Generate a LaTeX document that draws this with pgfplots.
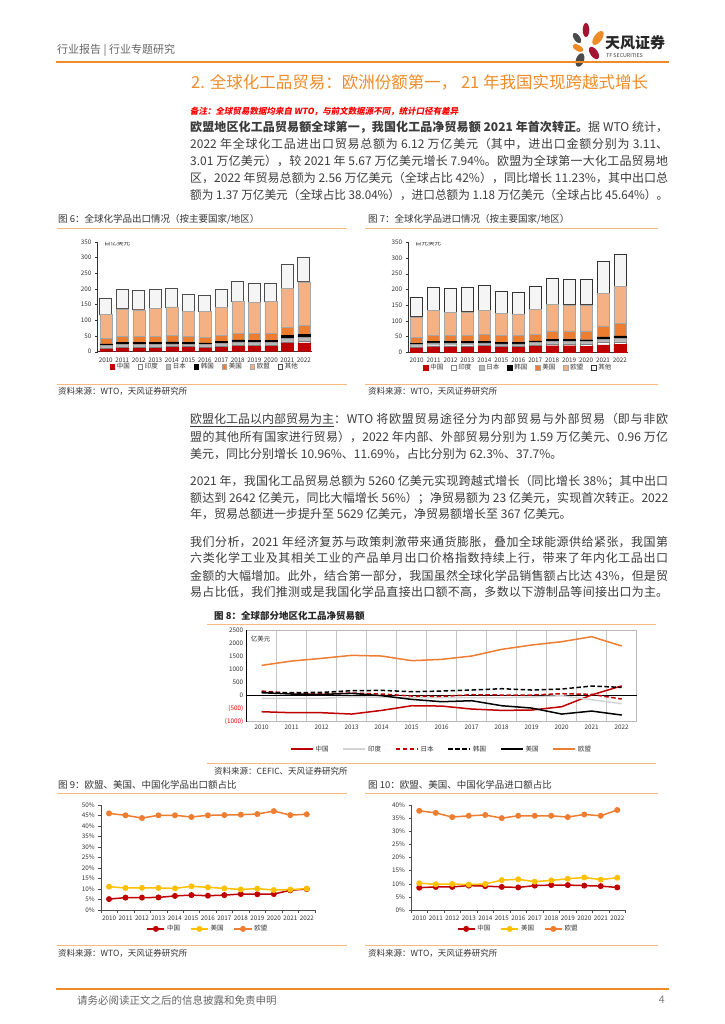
\documentclass[border=0pt]{standalone}
\usepackage{fontspec}
\setmainfont{Noto Sans CJK SC}
\newfontfamily\notefont{Noto Sans CJK SC}[FakeSlant=0.18]
\usepackage{graphicx}
\usepackage{pgfplots}
\usepackage{pgfplotstable}
\pgfplotsset{compat=1.18}
\XeTeXlinebreaklocale "zh"
\XeTeXlinebreakskip=0pt plus 2pt

\definecolor{tfo}{RGB}{237,125,49}
\definecolor{hdr}{RGB}{240,140,40}
\definecolor{lightor}{RGB}{247,185,125}
\definecolor{cnred}{RGB}{192,0,0}
\definecolor{peach}{RGB}{244,177,131}
\definecolor{usgold}{RGB}{255,192,0}
\definecolor{txt}{RGB}{60,60,60}
\definecolor{logored}{RGB}{165,20,50}
\definecolor{logogray}{RGB}{75,75,75}

% exports, 百亿美元
\pgfplotstableread{
x cn in jp kr us eu ot
0  7 3 10 5 18  77 50
1 10 3 11 6 19  88 61
2 10 3 10 6 19  86 61
3 10 3 10 6 20  90 60
4 13 3  9 6 21  91 60
5 13 3  8 6 19  80 55
6 12 3  8 5 18  83 51
7 14 3  9 6 20  90 57
8 17 4 10 7 21 102 64
9 16 4 10 7 22  99 61
10 16 4 10 7 22 101 59
11 26 5 12 9 26 125 75
12 28 6 12 9 29 139 77
}\expt

% imports, 百亿美元
\pgfplotstableread{
x cn in jp kr us eu ot
0 14 3  8 4 19  65  62
1 17 4  9 5 20  78  74
2 17 4  9 5 20  72  77
3 17 4  8 5 20  75  79
4 18 4  8 5 22  77  80
5 16 4  7 5 22  70  71
6 16 4  7 5 22  68  69
7 19 4  8 5 21  79  74
8 21 5  9 6 27  85  82
9 21 5  9 6 27  83  81
10 20 5  9 6 28  83  80
11 24 7 11 7 35 103 101
12 25 8 12 7 41 117 102
}\impt

% net trade, 亿美元
\pgfplotstableread{
x cn in jp kr us eu
0 -619 -110 170 120 107 1150
1 -657 -110 81 107 56 1316
2 -657 -110 69 120 43 1418
3 -708 -46 94 183 81 1533
4 -568 -71 56 196 -8 1507
5 -390 -84 -20 145 -148 1329
6 -403 -84 -33 170 -237 1380
7 -517 -84 30 209 -199 1507
8 -568 -84 18 260 -390 1762
9 -555 -59 18 209 -479 1927
10 -428 -8 69 247 -708 2054
11 23 -160 43 361 -594 2245
12 367 -313 -135 310 -746 1889
}\net

% export shares, %
\pgfplotstableread{
x cn us eu
0 5.2 11.1 46.0
1 5.9 10.5 45.1
2 5.9 10.6 43.8
3 6.0 10.5 45.1
4 6.7 10.3 45.1
5 7.1 11.3 44.3
6 6.8 10.8 45.1
7 7.1 10.3 45.2
8 7.6 9.8 45.4
9 7.5 10.2 45.7
10 7.6 9.5 47.1
11 9.4 9.7 45.2
12 10.0 10.2 45.6
}\exsh

% import shares, %
\pgfplotstableread{
x cn us eu
0 8.5 10.2 37.8
1 8.8 9.8 37.0
2 8.8 9.9 35.4
3 9.3 9.7 35.9
4 9.1 9.9 36.2
5 8.8 11.4 35.0
6 8.6 11.7 35.9
7 9.3 10.8 35.9
8 9.5 11.3 35.9
9 9.5 11.9 35.4
10 9.3 12.4 36.4
11 9.1 11.6 35.9
12 8.6 12.3 38.1
}\imsh

\pgfplotsset{
  /pgf/number format/assume math mode=true,
  /pgf/number format/1000 sep={},
  tfcommon/.style={
    scale only axis, enlargelimits=false,
    xmin=-0.5, xmax=12.5,
    xtick={0,...,12},
    xticklabels={2010,2011,2012,2013,2014,2015,2016,2017,2018,2019,2020,2021,2022},
    ticklabel style={font=\fontsize{6.3}{7}\selectfont, text=black!80},
    legend style={draw=none, fill=none, legend columns=-1, inner sep=0pt,
      font=\fontsize{6.5}{7}\selectfont, text=black!80,
      /tikz/every even column/.append style={column sep=6pt}},
  },
  tfbar/.style={
    tfcommon, ybar stacked, bar width=12pt,
    ymin=0, ymax=350, ytick={0,50,...,350},
    axis x line*=bottom, axis y line*=left,
    axis line style={black!80, line width=0.5pt, -},
    major x tick style={draw=none},
    tick align=outside, major tick length=2.5pt,
    tick style={black!80, line width=0.4pt},
    legend image code/.code={\draw[##1,line width=0.4pt] (0pt,-2.3pt) rectangle (4.6pt,2.3pt);},
  },
  tfshare/.style={
    tfcommon, ymin=0,
    axis x line*=bottom, axis y line*=left,
    axis line style={black!70, line width=0.5pt, -},
    major x tick style={draw=none},
    minor xtick={-0.5,0.5,...,12.5},
    tick align=outside, major tick length=2.5pt, minor tick length=2.5pt,
    tick style={black!70, line width=0.4pt},
    yticklabel={\pgfmathprintnumber{\tick}\%},
    every axis plot/.append style={line width=1.5pt, mark=*, mark size=2.2pt},
    legend style={/tikz/every even column/.append style={column sep=8pt}},
  },
}

% one justified line of body text (squeezed if too long), and one line left as it is
\newsavebox\lbox
\newcommand\jl[2]{\node[anchor=west,inner sep=0,text=txt,font=\fontsize{12}{14}\selectfont] at (190pt,-#1pt)
  {\sbox\lbox{#2}\ifdim\wd\lbox>478pt \resizebox{478pt}{\height}{\usebox\lbox}\else
   \parbox{478pt}{\tolerance=10000\hbadness=10000\parfillskip=0pt\parindent=0pt #2}\fi};}
\newcommand\pl[2]{\node[anchor=west,inner sep=0,text=txt,font=\fontsize{12}{14}\selectfont] at (190pt,-#1pt) {#2};}
\newcommand\ctitle[3]{\node[anchor=west,inner sep=0,text=black!80,font=\fontsize{9.5}{11}\selectfont] at (#1pt,-#2pt) {#3};}
\newcommand\src[3]{\node[anchor=west,inner sep=0,text=black!80,font=\fontsize{8.5}{10}\selectfont] at (#1pt,-#2pt) {#3};}

\begin{document}
\begin{tikzpicture}
\path[use as bounding box, fill=white] (0pt,0pt) rectangle (724pt,-1024pt);

% header
\node[anchor=west,inner sep=0,text=black!60,font=\fontsize{11}{13}\selectfont] at (57pt,-50pt) {行业报告 | 行业专题研究};
\fill[logored] (586pt,-30pt) ellipse [x radius=3.3pt, y radius=7pt];
\fill[logogray, rotate around={35:(577pt,-38pt)}] (577pt,-38pt) ellipse [x radius=3pt, y radius=6pt];
\fill[hdr, rotate around={-35:(598pt,-38pt)}] (598pt,-38pt) ellipse [x radius=4pt, y radius=8pt];
\fill[hdr, rotate around={60:(578pt,-48pt)}] (578pt,-48pt) ellipse [x radius=3pt, y radius=6pt];
\fill[logored, rotate around={35:(594pt,-53pt)}] (594pt,-53pt) ellipse [x radius=3.8pt, y radius=7pt];
\fill[logogray, rotate around={-20:(580pt,-60pt)}] (580pt,-60pt) ellipse [x radius=4pt, y radius=7pt];
\node[anchor=west,inner sep=0,font=\fontsize{15}{16}\selectfont\bfseries,text=black!85] at (605pt,-43pt) {天风证券};
\node[anchor=west,inner sep=0,font=\fontsize{5.3}{6}\selectfont,text=black!75] at (606pt,-56pt) {TF SECURITIES};
\draw[hdr, line width=1.8pt] (56pt,-62pt) -- (669pt,-62pt);

% section title and first paragraph
\node[anchor=west,inner sep=0,text=hdr,font=\fontsize{16.5}{18}\selectfont] at (191pt,-82pt) {2. 全球化工品贸易：欧洲份额第一， 21 年我国实现跨越式增长};
\node[anchor=west,inner sep=0,text=red,font=\notefont\bfseries\fontsize{8.5}{10}\selectfont] at (190pt,-111.5pt) {备注：全球贸易数据均来自 WTO，与前文数据源不同，统计口径有差异};
\jl{127}{\textbf{欧盟地区化工品贸易额全球第一，我国化工品净贸易额 2021 年首次转正。}据 WTO 统计，}
\jl{144}{2022 年全球化工品进出口贸易总额为 6.12 万亿美元（其中，进出口金额分别为 3.11、}
\jl{161}{3.01 万亿美元），较 2021 年 5.67 万亿美元增长 7.94\%。欧盟为全球第一大化工品贸易地}
\jl{178}{区，2022 年贸易总额为 2.56 万亿美元（全球占比 42\%），同比增长 11.23\%，其中出口总}
\jl{195}{额为 1.37 万亿美元（全球占比 38.04\%），进口总额为 1.18 万亿美元（全球占比 45.64\%）。}

% figure 6 and 7 frames
\ctitle{58}{219}{图 6：全球化学品出口情况（按主要国家/地区）}
\ctitle{368}{219}{图 7：全球化学品进口情况（按主要国家/地区）}
\draw[lightor, line width=0.9pt] (57pt,-228pt) -- (347pt,-228pt);
\draw[lightor, line width=0.9pt] (365pt,-228pt) -- (658pt,-228pt);
\draw[lightor, line width=0.9pt] (57pt,-384pt) -- (347pt,-384pt);
\draw[lightor, line width=0.9pt] (365pt,-384pt) -- (658pt,-384pt);
\src{58}{391}{资料来源：WTO，天风证券研究所}
\src{368}{391}{资料来源：WTO，天风证券研究所}

\begin{axis}[tfbar, at={(97.5pt,-351.7pt)}, anchor=south west, width=214.5pt, height=109.7pt,
  legend style={at={(0.5,-0.137)}, anchor=center}]
\addplot[fill=cnred, draw=cnred] table[x=x,y=cn]{\expt};
\addplot[fill=white, draw=gray] table[x=x,y=in]{\expt};
\addplot[fill=gray!55, draw=gray!80] table[x=x,y=jp]{\expt};
\addplot[fill=black, draw=black] table[x=x,y=kr]{\expt};
\addplot[fill=tfo, draw=gray!70] table[x=x,y=us]{\expt};
\addplot[fill=peach, draw=gray!70] table[x=x,y=eu]{\expt};
\addplot[fill=gray!8, draw=black!70, line width=0.7pt] table[x=x,y=ot]{\expt};
\legend{中国,印度,日本,韩国,美国,欧盟,其他}
\node[anchor=west,inner sep=0,font=\fontsize{6.5}{7}\selectfont,text=black!80] at (rel axis cs:0.03,0.99) {百亿美元};
\end{axis}

\begin{axis}[tfbar, at={(408.2pt,-352.3pt)}, anchor=south west, width=220.2pt, height=110pt,
  legend style={at={(0.5,-0.14)}, anchor=center}]
\addplot[fill=cnred, draw=cnred] table[x=x,y=cn]{\impt};
\addplot[fill=white, draw=gray] table[x=x,y=in]{\impt};
\addplot[fill=gray!55, draw=gray!80] table[x=x,y=jp]{\impt};
\addplot[fill=black, draw=black] table[x=x,y=kr]{\impt};
\addplot[fill=tfo, draw=gray!70] table[x=x,y=us]{\impt};
\addplot[fill=peach, draw=gray!70] table[x=x,y=eu]{\impt};
\addplot[fill=gray!8, draw=black!80, line width=0.8pt] table[x=x,y=ot]{\impt};
\legend{中国,印度,日本,韩国,美国,欧盟,其他}
\node[anchor=west,inner sep=0,font=\fontsize{6.5}{7}\selectfont,text=black!80] at (rel axis cs:0.03,0.99) {百元美元};
\end{axis}

% second text block
\jl{420}{\underline{欧盟化工品以内部贸易为主}：WTO 将欧盟贸易途径分为内部贸易与外部贸易（即与非欧}
\jl{437}{盟的其他所有国家进行贸易），2022 年内部、外部贸易分别为 1.59 万亿美元、0.96 万亿}
\pl{454}{美元，同比分别增长 10.96\%、11.69\%，占比分别为 62.3\%、37.7\%。}
\jl{481}{2021 年，我国化工品贸易总额为 5260 亿美元实现跨越式增长（同比增长 38\%；其中出口}
\jl{498}{额达到 2642 亿美元，同比大幅增长 56\%）；净贸易额为 23 亿美元，实现首次转正。2022}
\pl{514}{年，贸易总额进一步提升至 5629 亿美元，净贸易额增长至 367 亿美元。}
\jl{542}{我们分析，2021 年经济复苏与政策刺激带来通货膨胀，叠加全球能源供给紧张，我国第}
\jl{558}{六类化学工业及其相关工业的产品单月出口价格指数持续上行，带来了年内化工品出口}
\jl{576}{金额的大幅增加。此外，结合第一部分，我国虽然全球化学品销售额占比达 43\%，但是贸}
\jl{592}{易占比低，我们推测或是我国化学品直接出口额不高，多数以下游制品等间接出口为主。}

% figure 8
\node[anchor=west,inner sep=0,text=black!85,font=\fontsize{9.5}{11}\selectfont\bfseries] at (214pt,-616pt) {图 8：全球部分地区化工品净贸易额};
\draw[lightor, line width=0.9pt] (207pt,-624pt) -- (656pt,-624pt);
\draw[lightor, line width=0.9pt] (207pt,-763pt) -- (656pt,-763pt);
\src{214}{771}{资料来源：CEFIC、天风证券研究所}

\begin{axis}[tfcommon, at={(246.7pt,-721.7pt)}, anchor=south west, width=390pt, height=91.7pt,
  ymin=-1000, ymax=2500, ytick={-1000,-500,0,500,1000,1500,2000,2500},
  yticklabels={{\textcolor{red}{(1000)}},{\textcolor{red}{(500)}},0,500,1000,1500,2000,2500},
  axis line style={gray!55, line width=0.6pt},
  major tick length=0pt,
  minor xtick={0.5,1.5,...,11.5}, xminorgrids, minor tick length=0pt,
  minor grid style={gray!45, line width=0.7pt},
  extra y ticks={0}, extra y tick labels={},
  extra y tick style={grid=major, major grid style={black, line width=0.6pt}},
  extra x ticks={-0.5}, extra x tick labels={},
  extra x tick style={grid=major, major grid style={black, line width=0.6pt}},
  legend style={at={(0.5,-0.3)}, anchor=center,
    /tikz/every even column/.append style={column sep=12pt}},
  legend image code/.code={\draw[#1] (0pt,0pt) -- (22pt,0pt);},
  every axis plot/.append style={line width=1.5pt},
]
\addplot[cnred] table[x=x,y=cn]{\net};
\addplot[black!17] table[x=x,y=in]{\net};
\addplot[cnred, dash pattern=on 4.5pt off 2.5pt] table[x=x,y=jp]{\net};
\addplot[black, dash pattern=on 4.5pt off 2.5pt] table[x=x,y=kr]{\net};
\addplot[black] table[x=x,y=us]{\net};
\addplot[tfo] table[x=x,y=eu]{\net};
\legend{中国,印度,日本,韩国,美国,欧盟}
\node[anchor=west,inner sep=0,font=\fontsize{6.5}{7}\selectfont,text=black!80] at (rel axis cs:0.01,0.9) {亿美元};
\end{axis}

% figures 9 and 10
\ctitle{58}{785}{图 9：欧盟、美国、中国化学品出口额占比}
\ctitle{368}{785}{图 10：欧盟、美国、中国化学品进口额占比}
\draw[lightor, line width=0.9pt] (57pt,-793pt) -- (347pt,-793pt);
\draw[lightor, line width=0.9pt] (365pt,-793pt) -- (658pt,-793pt);
\draw[lightor, line width=0.9pt] (57pt,-945pt) -- (347pt,-945pt);
\draw[lightor, line width=0.9pt] (365pt,-945pt) -- (658pt,-945pt);
\src{58}{953}{资料来源：WTO，天风证券研究所}
\src{368}{953}{资料来源：WTO，天风证券研究所}

\begin{axis}[tfshare, at={(100.8pt,-910pt)}, anchor=south west, width=214.2pt, height=105pt,
  ymax=50, ytick={0,5,...,50}, legend style={at={(0.5,-0.18)}, anchor=center}]
\addplot[cnred] table[x=x,y=cn]{\exsh};
\addplot[usgold] table[x=x,y=us]{\exsh};
\addplot[tfo] table[x=x,y=eu]{\exsh};
\legend{中国,美国,欧盟}
\end{axis}

\begin{axis}[tfshare, at={(411pt,-910pt)}, anchor=south west, width=214.5pt, height=105pt,
  ymax=40, ytick={0,5,...,40}, legend style={at={(0.5,-0.18)}, anchor=center}]
\addplot[cnred] table[x=x,y=cn]{\imsh};
\addplot[usgold] table[x=x,y=us]{\imsh};
\addplot[tfo] table[x=x,y=eu]{\imsh};
\legend{中国,美国,欧盟}
\end{axis}

% footer
\draw[hdr, line width=1.8pt] (56pt,-989pt) -- (669pt,-989pt);
\node[anchor=west,inner sep=0,text=black!60,font=\fontsize{10.5}{12}\selectfont] at (77pt,-1000pt) {请务必阅读正文之后的信息披露和免责申明};
\node[anchor=east,inner sep=0,text=black!50,font=\fontsize{10.5}{12}\selectfont] at (665pt,-1000pt) {4};
\end{tikzpicture}
\end{document}
